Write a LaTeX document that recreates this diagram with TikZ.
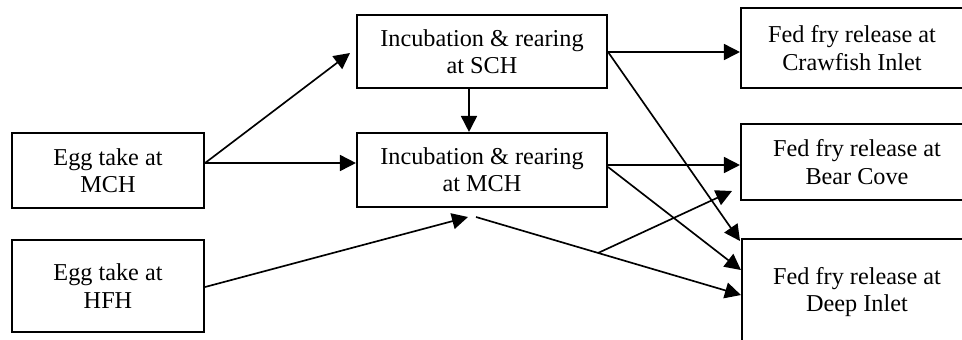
\documentclass[tikz,border=0pt]{standalone}
\usepackage{fontspec}
\setmainfont{Liberation Serif}
\usepackage{tikz}
\usetikzlibrary{arrows.meta}

\begin{document}
\begin{tikzpicture}[x=0.02cm, y=-0.02cm,
                    font=\fontsize{13.8}{15.5}\selectfont,
                    stage/.style={draw, line width=1.2pt, align=center, inner sep=0pt},
                    flow/.style={-{Triangle[length=0.32cm, width=0.32cm]}, line width=0.95pt}]
 \clip (0,0) rectangle (962,339);
 % sources
 \node[stage, minimum width=192*0.02cm, minimum height=75*0.02cm] (emch) at (108,170.5)
      {Egg take at\\MCH};
 \node[stage, minimum width=192*0.02cm, minimum height=92*0.02cm] (ehfh) at (108,286)
      {Egg take at\\HFH};
 % hatcheries
 \node[stage, minimum width=250*0.02cm, minimum height=73*0.02cm] (isch) at (482,51.5)
      {Incubation \& rearing\\at SCH};
 \node[stage, minimum width=250*0.02cm, minimum height=74*0.02cm] (imch) at (482,170)
      {Incubation \& rearing\\at MCH};
 % release sites
 \node[stage, minimum width=222*0.02cm, minimum height=80*0.02cm] (rcraw) at (852,48)
      {Fed fry release at\\Crawfish Inlet};
 \node[stage, minimum width=232*0.02cm, minimum height=76*0.02cm] (rbear) at (857,162)
      {Fed fry release at\\Bear Cove};
 \node[stage, minimum width=230*0.02cm, minimum height=106*0.02cm] (rdeep) at (857,292)
      {Fed fry release at\\Deep Inlet};

 \coordinate (hfhtip) at (468,217);
 \coordinate (hfhout) at (476,217);
 \coordinate (fork) at (598,253);
 \coordinate (bearin) at (732,191);

 \draw[flow] (emch.east |- 0,163) -- (350,53);
 \draw[flow] (emch.east |- 0,163) -- (imch.west |- 0,163);
 \draw[flow] (isch.south -| 469,0) -- (imch.north -| 469,0);
 \draw[flow] (ehfh.east |- 0,287) -- (hfhtip);
 \draw[flow] (hfhout) -- (rdeep.west |- 0,295);
 \draw[flow] (fork) -- (bearin);
 \draw[flow] (isch.east |- 0,52) -- (rcraw.west |- 0,52);
 \draw[flow] (isch.east |- 0,52) -- (740,241);
 \draw[flow] (imch.east |- 0,165) -- (rbear.west |- 0,165);
 \draw[flow] (imch.east |- 0,167) -- (rdeep.west |- 0,270);
\end{tikzpicture}
\end{document}
